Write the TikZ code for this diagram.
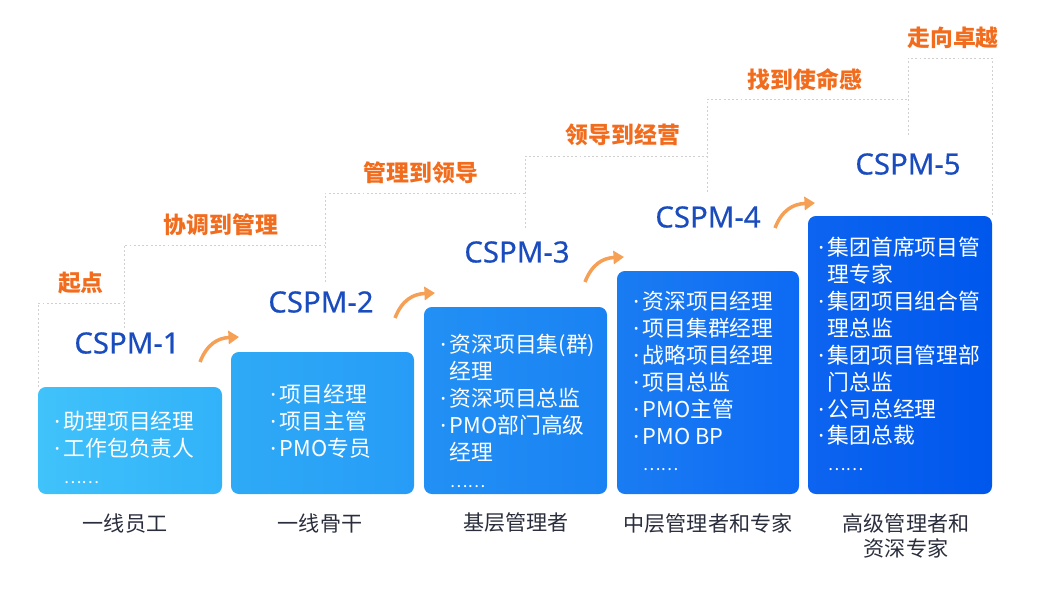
\documentclass[tikz,border=0pt]{standalone}
\usepackage{fontspec}
\setmainfont{Noto Sans CJK SC}
\newfontfamily\lvfont[FakeBold=0.4]{Noto Sans}
\newfontfamily\dotfont{Noto Sans}
\usetikzlibrary{arrows.meta, fit}
\definecolor{stepgray}{RGB}{208,208,208}
\definecolor{cspmblue}{RGB}{26,76,190}
\definecolor{stageorange}{RGB}{242,108,30}
\definecolor{rolegray}{RGB}{42,46,60}
\definecolor{arrowc}{RGB}{245,160,85}
\definecolor{b1l}{RGB}{64,194,250}
\definecolor{b1r}{RGB}{50,178,249}
\definecolor{b2l}{RGB}{46,170,246}
\definecolor{b2r}{RGB}{39,156,247}
\definecolor{b3l}{RGB}{34,144,244}
\definecolor{b3r}{RGB}{26,130,243}
\definecolor{b4l}{RGB}{26,124,242}
\definecolor{b4r}{RGB}{13,106,244}
\definecolor{b5l}{RGB}{12,100,240}
\definecolor{b5r}{RGB}{0,87,236}
\newcommand{\itm}{{\dotfont·}\,}
\newcommand{\ind}{\phantom{\itm}}
\newcommand{\etc}{{\fontsize{9.5}{9.5}\selectfont……}}

\begin{document}
\begin{tikzpicture}[
  x=0.02cm, y=-0.02cm,
  lvbox/.style={rounded corners=4.5pt, inner sep=0pt},
  items/.style={text=white, align=left, anchor=north west, inner sep=0pt,
    font=\fontsize{12.4}{15.3}\selectfont},
  level/.style={text=cspmblue, inner sep=0pt,
    font=\lvfont\fontsize{16.7}{20}\selectfont},
  stage/.style={text=stageorange, inner sep=0pt,
    font=\bfseries\fontsize{13}{16}\selectfont},
  role/.style={text=rolegray, align=center, inner sep=0pt,
    font=\fontsize{12}{14.7}\selectfont},
  stair/.style={stepgray, line width=0.5pt, dash pattern=on 1.1pt off 1.3pt},
  upto/.style={-{Triangle[length=6pt, width=7.5pt]}, arrowc, line width=2pt}
]
  \useasboundingbox (0,0) rectangle (1048,589);

  %% DOTTED STAIRCASE
  \draw[stair] (38,387) -- (38,303) -- (124,303);
  \draw[stair] (124,328) -- (124,245) -- (325,245);
  \draw[stair] (325,282) -- (325,193) -- (525,193);
  \draw[stair] (525,228) -- (525,156) -- (707,156);
  \draw[stair] (707,192) -- (707,99) -- (908,99);
  \draw[stair] (908,135) -- (908,58) -- (992,58) -- (992,216);

  %% STAGE LABELS
  \node[stage] (stage1) at (81,283) {起点};
  \node[stage] (stage2) at (221,225) {协调到管理};
  \node[stage] (stage3) at (421,173) {管理到领导};
  \node[stage] (stage4) at (623,135) {领导到经营};
  \node[stage] (stage5) at (805,80) {找到使命感};
  \node[stage] (stage6) at (953,38) {走向卓越};

  %% LEVEL BOXES
  \node[lvbox, left color=b1l, right color=b1r, fit={(38,387) (222,494)}] (box1) {};
  \node[lvbox, left color=b2l, right color=b2r, fit={(231,352) (414,494)}] (box2) {};
  \node[lvbox, left color=b3l, right color=b3r, fit={(424,307) (607,494)}] (box3) {};
  \node[lvbox, left color=b4l, right color=b4r, fit={(617,271) (799,494)}] (box4) {};
  \node[lvbox, left color=b5l, right color=b5r, fit={(808,216) (992,494)}] (box5) {};

  %% CSPM TITLES
  \node[level] (lv1) at (127,343) {CSPM-1};
  \node[level] (lv2) at (321,302) {CSPM-2};
  \node[level] (lv3) at (517,252) {CSPM-3};
  \node[level] (lv4) at (708,217) {CSPM-4};
  \node[level] (lv5) at (908,164) {CSPM-5};

  %% CURVED ARROWS
  \draw[upto] (200,362) .. controls (207,344) and (218,338) .. (239,337);
  \draw[upto] (395,318) .. controls (402,300) and (413,294) .. (435,293);
  \draw[upto] (585,282) .. controls (592,264) and (603,258) .. (624,257);
  \draw[upto] (775,228) .. controls (782,210) and (793,204) .. (815,203);

  %% BOX CONTENTS
  \node[items] (list1) at (54,411)
    {\itm 助理项目经理\\
     \itm 工作包负责人\\
     \ind\etc};
  \node[items] (list2) at (270,384)
    {\itm 项目经理\\
     \itm 项目主管\\
     \itm PMO专员};
  \node[items] (list3) at (440,334)
    {\itm 资深项目集(群)\\
     \ind 经理\\
     \itm 资深项目总监\\
     \itm PMO部门高级\\
     \ind 经理\\
     \ind\etc};
  \node[items] (list4) at (633,291)
    {\itm 资深项目经理\\
     \itm 项目集群经理\\
     \itm 战略项目经理\\
     \itm 项目总监\\
     \itm PMO主管\\
     \itm PMO BP\\
     \ind\etc};
  \node[items] (list5) at (818,237)
    {\itm 集团首席项目管\\
     \ind 理专家\\
     \itm 集团项目组合管\\
     \ind 理总监\\
     \itm 集团项目管理部\\
     \ind 门总监\\
     \itm 公司总经理\\
     \itm 集团总裁\\
     \ind\etc};

  %% ROLES BELOW
  \node[role] (role1) at (125,523) {一线员工};
  \node[role] (role2) at (320,523) {一线骨干};
  \node[role] (role3) at (516,523) {基层管理者};
  \node[role] (role4) at (708,523) {中层管理者和专家};
  \node[role] (role5) at (906,536) {高级管理者和\\资深专家};

\end{tikzpicture}
\end{document}
